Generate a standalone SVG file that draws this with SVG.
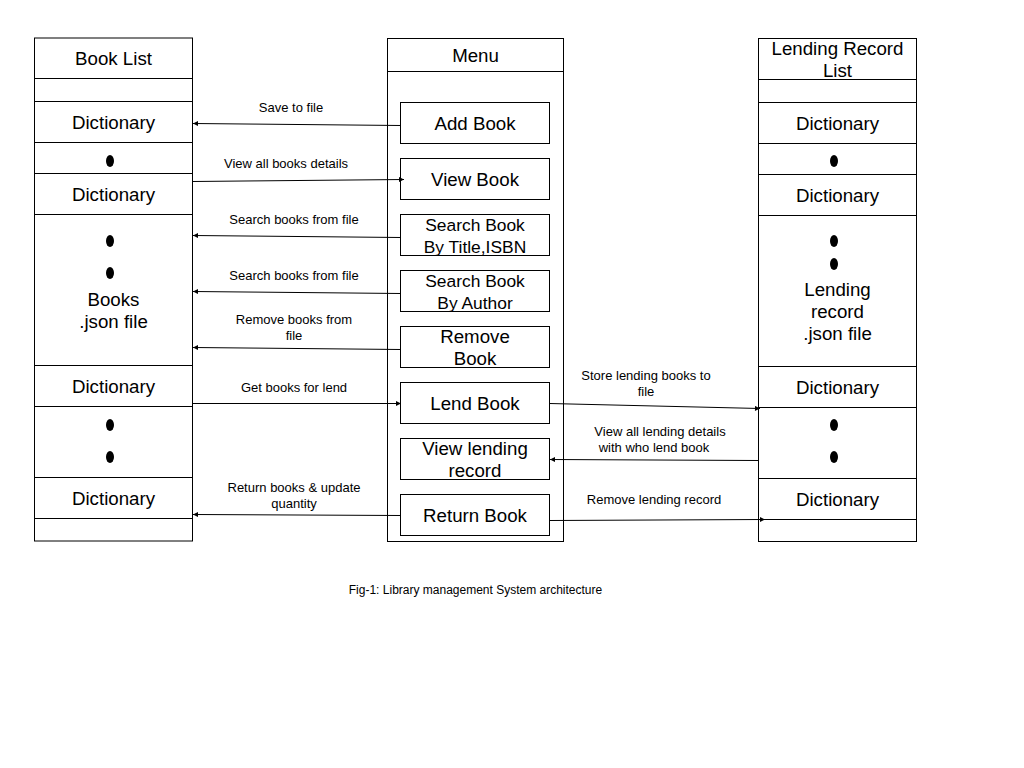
<svg xmlns="http://www.w3.org/2000/svg" width="1024" height="768" viewBox="0 0 1024 768">
<style>
.box{fill:#fff;stroke:#000;stroke-width:1}
.ln{stroke:#000;stroke-width:1;fill:none}
.big{font-family:"Liberation Sans",Arial,sans-serif;font-size:18.7px;fill:#000;text-anchor:middle}
.mid{font-family:"Liberation Sans",Arial,sans-serif;font-size:17.4px;fill:#000;text-anchor:middle}
.sm{font-family:"Liberation Sans",Arial,sans-serif;font-size:13px;fill:#000;text-anchor:middle}
.cap{font-family:"Liberation Sans",Arial,sans-serif;font-size:12px;fill:#000;text-anchor:middle}
.dot{fill:#000}
.con{stroke:#000;stroke-width:1;fill:none;marker-end:url(#ah)}
</style>
<defs>
<marker id="ah" viewBox="0 0 10 10" refX="10" refY="5" markerWidth="7" markerHeight="5" markerUnits="userSpaceOnUse" orient="auto">
<path d="M0,0 L10,5 L0,10 z" fill="#000"/>
</marker>
</defs>
<rect width="1024" height="768" fill="#fff"/>

<g id="book-list">
<rect class="box" x="34.5" y="38" width="158" height="503"/>
<path class="ln" d="M34.5,78.5H192.5M34.5,101.5H192.5M34.5,142.5H192.5M34.5,173.5H192.5M34.5,214.5H192.5M34.5,365.5H192.5M34.5,406.5H192.5M34.5,477.5H192.5M34.5,518.5H192.5"/>
<text class="big" x="113.5" y="65">Book List</text>
<text class="big" x="113.5" y="129">Dictionary</text>
<ellipse class="dot" cx="110" cy="161" rx="4" ry="6"/>
<text class="big" x="113.5" y="201">Dictionary</text>
<ellipse class="dot" cx="110" cy="241" rx="4" ry="6"/>
<ellipse class="dot" cx="110" cy="273" rx="4" ry="6"/>
<text class="big" x="113.5" y="306">Books</text>
<text class="big" x="113.5" y="328">.json file</text>
<text class="big" x="113.5" y="393">Dictionary</text>
<ellipse class="dot" cx="110" cy="425" rx="4" ry="6"/>
<ellipse class="dot" cx="110" cy="457" rx="4" ry="6"/>
<text class="big" x="113.5" y="505">Dictionary</text>
</g>

<g id="menu">
<rect class="box" x="387.5" y="38.5" width="176" height="503"/>
<path class="ln" d="M387.5,71.5H563.5"/>
<text class="big" x="475.5" y="62">Menu</text>
</g>
<g id="add-book"><rect class="box" x="400.5" y="102.5" width="149" height="41"/><text class="big" x="475" y="130">Add Book</text></g>
<g id="view-book"><rect class="box" x="400.5" y="158.5" width="149" height="41"/><text class="big" x="475" y="186">View Book</text></g>
<g id="search-title"><rect class="box" x="400.5" y="214.5" width="149" height="41"/><text class="mid" x="475" y="231">Search Book</text><text class="mid" x="475" y="253">By Title,ISBN</text></g>
<g id="search-author"><rect class="box" x="400.5" y="270.5" width="149" height="41"/><text class="mid" x="475" y="287">Search Book</text><text class="mid" x="475" y="309">By Author</text></g>
<g id="remove-book"><rect class="box" x="400.5" y="326.5" width="149" height="41"/><text class="big" x="475" y="343">Remove</text><text class="big" x="475" y="365">Book</text></g>
<g id="lend-book"><rect class="box" x="400.5" y="382.5" width="149" height="41"/><text class="big" x="475" y="410">Lend Book</text></g>
<g id="view-lending"><rect class="box" x="400.5" y="438.5" width="149" height="41"/><text class="big" x="475" y="455">View lending</text><text class="big" x="475" y="477">record</text></g>
<g id="return-book"><rect class="box" x="400.5" y="494.5" width="149" height="41"/><text class="big" x="475" y="522">Return Book</text></g>

<g id="lending-record-list">
<rect class="box" x="758.5" y="38.5" width="158" height="503"/>
<path class="ln" d="M758.5,79.5H916.5M758.5,102.5H916.5M758.5,143.5H916.5M758.5,174.5H916.5M758.5,215.5H916.5M758.5,366.5H916.5M758.5,407.5H916.5M758.5,478.5H916.5M758.5,519.5H916.5"/>
<text class="big" x="837.5" y="55">Lending Record</text>
<text class="big" x="837.5" y="77">List</text>
<text class="big" x="837.5" y="130">Dictionary</text>
<ellipse class="dot" cx="834" cy="161" rx="4" ry="6"/>
<text class="big" x="837.5" y="202">Dictionary</text>
<ellipse class="dot" cx="834" cy="241" rx="4" ry="6"/>
<ellipse class="dot" cx="834" cy="264" rx="4" ry="6"/>
<text class="big" x="837.5" y="296">Lending</text>
<text class="big" x="837.5" y="318">record</text>
<text class="big" x="837.5" y="340">.json file</text>
<text class="big" x="837.5" y="394">Dictionary</text>
<ellipse class="dot" cx="834" cy="425" rx="4" ry="6"/>
<ellipse class="dot" cx="834" cy="457" rx="4" ry="6"/>
<text class="big" x="837.5" y="506">Dictionary</text>
</g>

<g id="connectors">
<path class="con" d="M401,125.5L193,123.5"/>
<path class="con" d="M192.5,181.5L404,179.5"/>
<path class="con" d="M401,237.5L193,235.5"/>
<path class="con" d="M401,293.5L193,291.5"/>
<path class="con" d="M401,349.5L193,347.5"/>
<path class="con" d="M192.5,403.5L401,403.5"/>
<path class="con" d="M401,515.5L193,514.5"/>
<path class="con" d="M549.5,403.5L760,408.5"/>
<path class="con" d="M758.5,460.5L550,459.5"/>
<path class="con" d="M549.5,520.5L765,519.5"/>
<text class="sm" x="291" y="112">Save to file</text>
<text class="sm" x="286" y="168">View all books details</text>
<text class="sm" x="294" y="224">Search books from file</text>
<text class="sm" x="294" y="280">Search books from file</text>
<text class="sm" x="294" y="324">Remove books from</text>
<text class="sm" x="294" y="340">file</text>
<text class="sm" x="294" y="392">Get books for lend</text>
<text class="sm" x="294" y="492">Return books &amp; update</text>
<text class="sm" x="294" y="508">quantity</text>
<text class="sm" x="646" y="380">Store lending books to</text>
<text class="sm" x="646" y="396">file</text>
<text class="sm" x="660" y="436">View all lending details</text>
<text class="sm" x="654" y="452">with who lend book</text>
<text class="sm" x="654" y="504">Remove lending record</text>
</g>

<text class="cap" x="475.5" y="594">Fig-1: Library management System architecture</text>
</svg>
